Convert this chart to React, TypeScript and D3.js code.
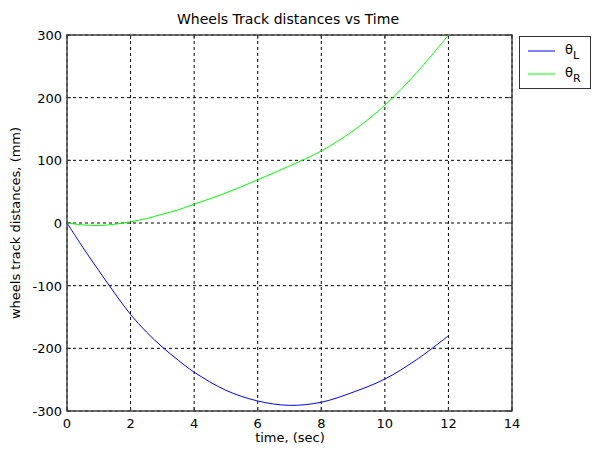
import React from "react";
import * as d3 from "d3";

const timeValues = [0, 0.5, 1, 1.5, 2, 2.5, 3, 3.5, 4, 5, 6, 7, 8, 9, 10, 11, 12];
const thetaL = [0, -39, -76, -112, -146, -174, -198, -219, -238, -267, -284, -291, -286, -270, -249, -218, -180];
const thetaR = [0, -3, -4, -2, 2, 7, 14, 21, 30, 48, 69, 91, 115, 147, 188, 240, 300];
const xTicks = [0, 2, 4, 6, 8, 10, 12, 14];
const yTicks = [-300, -200, -100, 0, 100, 200, 300];
const seriesNames = ["L", "R"];
const seriesColors = ["#0000ff", "#00ff00"];

const W = 592, H = 450;
const M = { left: 67, right: 512, top: 35, bottom: 411 };
const font = "DejaVu Sans, Verdana, sans-serif";

export default function App() {
  const x = d3.scaleLinear().domain([0, 14]).range([M.left, M.right]);
  const y = d3.scaleLinear().domain([-300, 300]).range([M.bottom, M.top]);
  const line = d3.line<number>().x((_, i) => x(timeValues[i])).y(d => y(d)).curve(d3.curveCatmullRom);
  const series = [thetaL, thetaR];
  return (
    <svg width={W} height={H} style={{ position: "absolute", left: 0, top: 0, background: "#fff" }} fontFamily={font}>
      <rect x={0} y={0} width={W} height={H} fill="#fff" />
      <text x={288} y={24} textAnchor="middle" fontSize={14}>Wheels Track distances vs Time</text>
      {/* grid */}
      {xTicks.map(t => (
        <line key={"gx" + t} x1={x(t)} x2={x(t)} y1={M.top} y2={M.bottom} stroke="#000" strokeWidth={1} strokeDasharray="3,3" />
      ))}
      {yTicks.map(t => (
        <line key={"gy" + t} x1={M.left} x2={M.right} y1={y(t)} y2={y(t)} stroke="#000" strokeWidth={1} strokeDasharray="3,3" />
      ))}
      {/* box */}
      <rect x={M.left} y={M.top} width={M.right - M.left} height={M.bottom - M.top} fill="none" stroke="#444" strokeWidth={1.5} />
      {/* ticks */}
      {xTicks.map(t => (
        <g key={"tx" + t}>
          <line x1={x(t)} x2={x(t)} y1={M.bottom} y2={M.bottom - 4} stroke="#333" />
          <line x1={x(t)} x2={x(t)} y1={M.top} y2={M.top + 4} stroke="#333" />
          <text x={x(t)} y={M.bottom + 17} textAnchor="middle" fontSize={13}>{t}</text>
        </g>
      ))}
      {yTicks.map(t => (
        <g key={"ty" + t}>
          <line x1={M.left} x2={M.left + 4} y1={y(t)} y2={y(t)} stroke="#333" />
          <line x1={M.right} x2={M.right - 4} y1={y(t)} y2={y(t)} stroke="#333" />
          <text x={M.left - 5} y={y(t) + 5} textAnchor="end" fontSize={13}>{t}</text>
        </g>
      ))}
      {/* curves */}
      {series.map((s, i) => (
        <path key={"s" + i} d={line(s) || ""} fill="none" stroke={seriesColors[i]} strokeWidth={1} />
      ))}
      <text x={290} y={442} textAnchor="middle" fontSize={13}>time, (sec)</text>
      <text transform={`translate(20,${(M.top + M.bottom) / 2}) rotate(-90)`} textAnchor="middle" fontSize={13}>wheels track distances, (mm)</text>
      {/* legend */}
      <rect x={519.5} y={36.5} width={71} height={52} fill="#fff" stroke="#333" strokeWidth={1} />
      {seriesNames.map((n, i) => (
        <g key={"lg" + n}>
          <line x1={528} x2={555} y1={51 + i * 23} y2={51 + i * 23} stroke={seriesColors[i]} />
          <text x={565} y={54 + i * 23} fontSize={13}>θ<tspan fontSize={11} dy={5}>{n}</tspan></text>
        </g>
      ))}
    </svg>
  );
}
